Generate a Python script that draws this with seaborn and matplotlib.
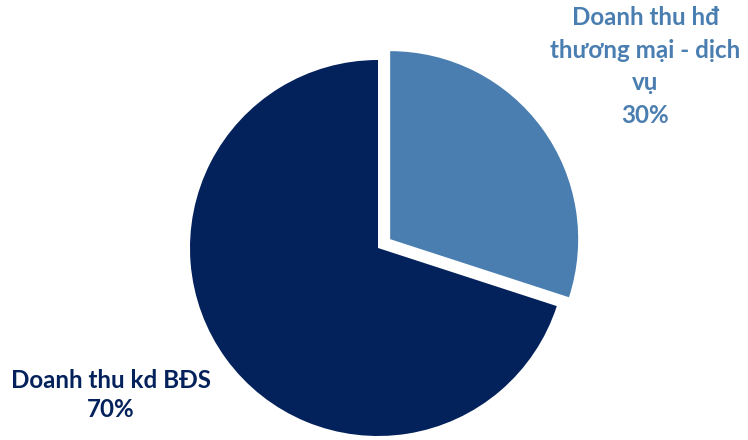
import matplotlib
matplotlib.use("Agg")
import matplotlib.pyplot as plt
import seaborn as sns

categories = ["Doanh thu hđ\nthương mại - dịch\nvụ", "Doanh thu kd BĐS"]
shares = [30, 70]
colors = ["#4A7EB0", "#03215B"]

sns.set_theme(style="white")
plt.rcParams['font.family'] = ['Lato', 'DejaVu Sans']

fig = plt.figure(figsize=(7.48, 4.40), dpi=100)
ax = fig.add_axes([0, 0, 1, 1])
ax.pie(shares, colors=colors, startangle=90, counterclock=False,
       explode=[0.08, 0], radius=1, center=(0, 0),
       wedgeprops=dict(linewidth=0))
ax.set_xlim(-378/188, 370/188)
ax.set_ylim(-192/188, 248/188)
ax.set_aspect('auto')
ax.axis('off')

ax.text(1.42, 0.965, f"{categories[0]}\n{shares[0]}%", ha='center', va='center',
        color=colors[0], fontsize=17.4, fontweight='bold', linespacing=1.5)
ax.text(-1.42, -0.78, f"{categories[1]}\n{shares[1]}%", ha='center', va='center',
        color=colors[1], fontsize=17.4, fontweight='bold', linespacing=1.32)

fig.savefig("out.png", dpi=100)
